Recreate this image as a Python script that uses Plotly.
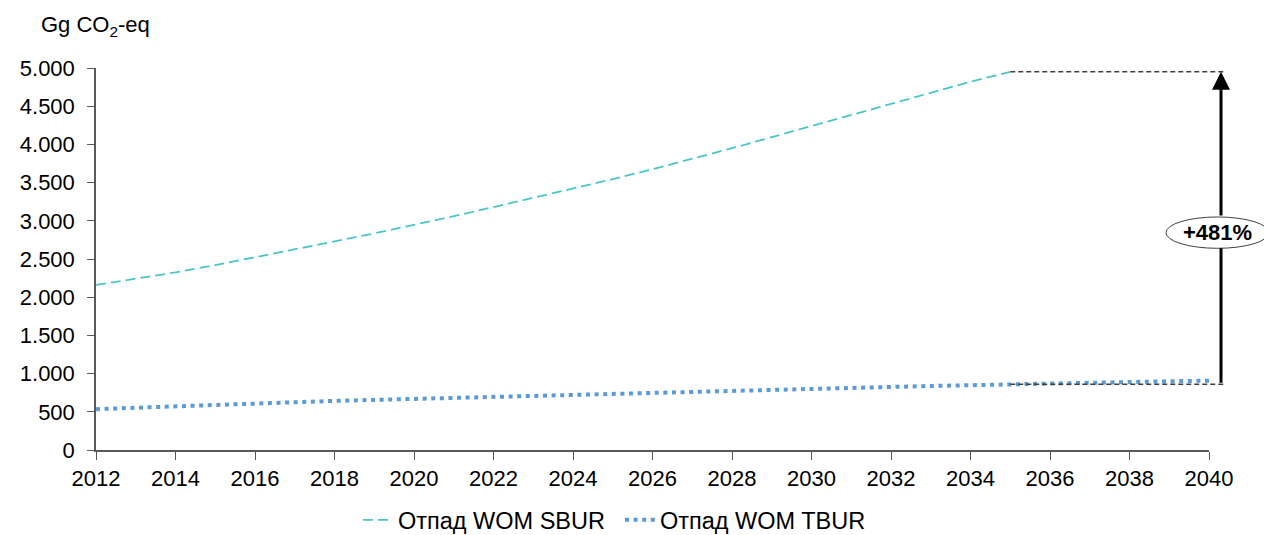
import plotly.graph_objects as go

years = list(range(2012, 2041))
sbur = [2160, 2240, 2325, 2420, 2520, 2625, 2730, 2835, 2945, 3060, 3180, 3300,
        3420, 3545, 3675, 3810, 3950, 4095, 4240, 4385, 4530, 4675, 4820, 4950,
        None, None, None, None, None]
tbur = [535, 555, 575, 593, 610, 627, 643, 656, 670, 684, 698, 712, 725, 738,
        750, 762, 775, 788, 800, 813, 825, 838, 850, 862, 872, 882, 892, 900, 908]
x_ticks = list(range(2012, 2041, 2))
y_ticks = list(range(0, 5001, 500))
ref_year = 2035
pct_label = "+481%"

YMAX = 5000
XMIN, XMAX = 2012, 2040
FONT = "Liberation Sans, Arial, sans-serif"
FS = 22

# figure geometry (page has an 8px body margin)
FW, FH = 1264, 527
L, T, R, B = 88, 60, 63, 85
W = FW - L - R
H = FH - T - B
OFF = 8


def px_x(page_x):
    return (page_x - OFF - L) / W


def px_y(page_y):
    return (FH - B - (page_y - OFF)) / H


fig = go.Figure()
fig.add_trace(go.Scatter(x=years, y=sbur, mode="lines", name="Отпад WOM SBUR",
                         line=dict(color="#4BC6C6", width=1.8, dash="10px,5px"),
                         connectgaps=False))
fig.add_trace(go.Scatter(x=years, y=tbur, mode="lines", name="Отпад WOM TBUR",
                         line=dict(color="#5B9BD5", width=4, dash="4px,4.6px")))

i_ref = years.index(ref_year)
top_v = sbur[i_ref]
bot_v = tbur[i_ref]

x_ref_paper = (ref_year - XMIN) / (XMAX - XMIN)
line_end = px_x(1225)
arrow_xp = px_x(1221)

shapes = []
for v in (top_v, bot_v):
    shapes.append(dict(type="line", xref="paper", yref="paper",
                       x0=x_ref_paper, x1=line_end, y0=v / YMAX, y1=v / YMAX,
                       line=dict(color="#404040", width=1.5, dash="5px,3px")))

# ellipse label geometry
ell_top = 3050
ell_bot = 2640
ell_x0 = px_x(1166)
ell_x1 = px_x(1269)

# lower arrow segment (no head)
fig.add_annotation(x=arrow_xp, y=ell_bot / YMAX, xref="paper", yref="paper",
                   ax=0, ay=(ell_bot - bot_v) / YMAX * H, axref="pixel", ayref="pixel",
                   text="", showarrow=True, arrowhead=0, arrowwidth=3,
                   arrowcolor="black", standoff=0, startstandoff=0)
# upper arrow segment with head
fig.add_annotation(x=arrow_xp, y=top_v / YMAX, xref="paper", yref="paper",
                   ax=0, ay=(top_v - ell_top) / YMAX * H, axref="pixel", ayref="pixel",
                   text="", showarrow=True, arrowhead=2, arrowsize=1.2, arrowwidth=3,
                   arrowcolor="black", standoff=0, startstandoff=0)
shapes.append(dict(type="circle", xref="paper", yref="paper",
                   x0=ell_x0, x1=ell_x1, y0=ell_bot / YMAX, y1=ell_top / YMAX,
                   line=dict(color="#404040", width=1), fillcolor="white", layer="above"))
fig.add_annotation(x=(ell_x0 + ell_x1) / 2, y=(ell_top + ell_bot) / 2 / YMAX,
                   xref="paper", yref="paper", xanchor="center", yanchor="middle",
                   text="<b>" + pct_label + "</b>", showarrow=False,
                   font=dict(size=FS, color="black", family=FONT))

# unit label
fig.add_annotation(x=px_x(39), y=px_y(26), xref="paper", yref="paper",
                   xanchor="left", yanchor="middle",
                   text="Gg CO<sub>2</sub>-eq", showarrow=False,
                   font=dict(size=FS, color="black", family=FONT))

fig.update_layout(
    width=FW, height=FH,
    margin=dict(l=L, r=R, t=T, b=B, autoexpand=False),
    plot_bgcolor="white", paper_bgcolor="white",
    separators=",.",
    font=dict(family=FONT, size=FS, color="black"),
    shapes=shapes,
    showlegend=True,
    legend=dict(orientation="h", x=px_x(358), xanchor="left",
                yref="container", y=1 - (498 - OFF) / FH, yanchor="top",
                font=dict(size=23.5), traceorder="normal", itemwidth=30,
                entrywidth=217),
    xaxis=dict(range=[XMIN, XMAX], tickvals=x_ticks, ticks="outside", ticklen=8,
               tickcolor="#595959", showline=True, linecolor="#595959", linewidth=1.5,
               showgrid=False, zeroline=False, tickfont=dict(size=FS), automargin=False),
    yaxis=dict(range=[0, YMAX], tickvals=y_ticks, tickformat=",d", ticks="outside",
               ticklen=7, tickcolor="#595959", showline=True, linecolor="#595959",
               linewidth=1.5, showgrid=False, zeroline=False, tickfont=dict(size=FS),
               automargin=False, ticklabelstandoff=8),
)

fig.write_html("out.html")
